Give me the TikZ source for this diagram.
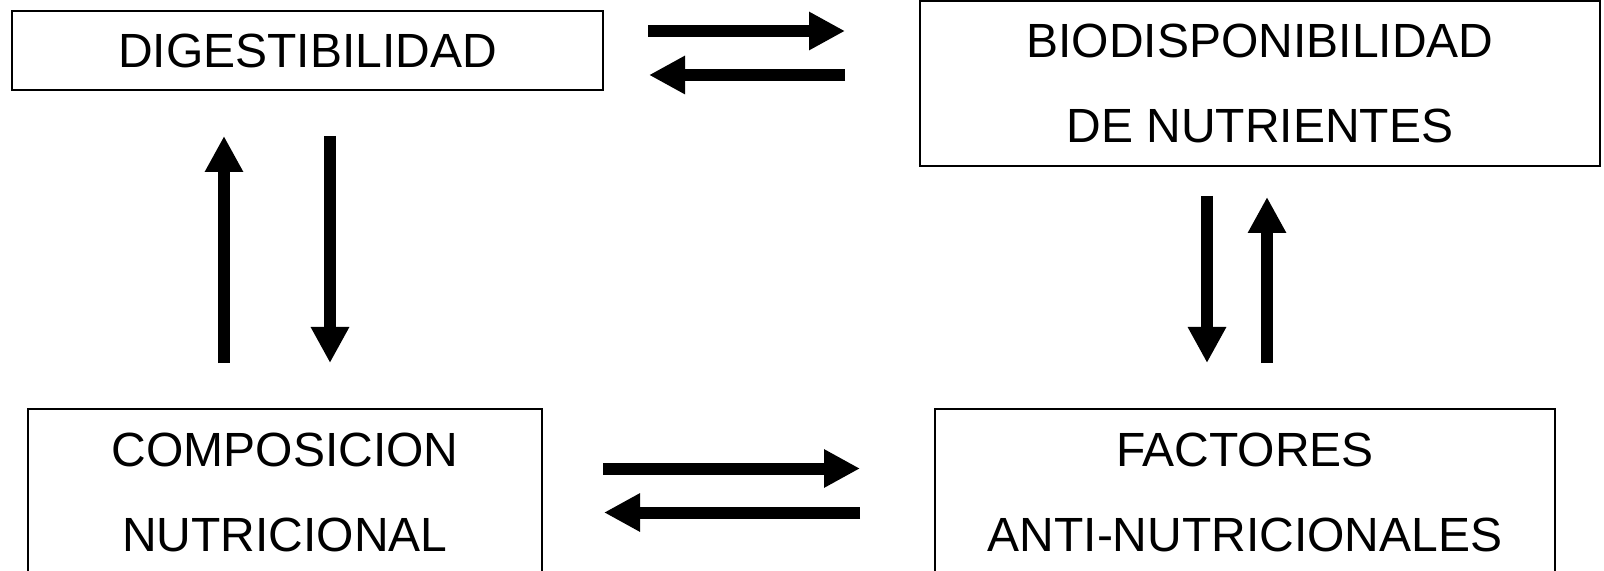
\documentclass[tikz,border=0pt]{standalone}
\usepackage{fontspec}
\setmainfont{Liberation Sans}
\usetikzlibrary{arrows.meta}
\begin{document}
\begin{tikzpicture}[x=0.5pt,y=-0.5pt,
  box/.style={draw=black,line width=0.9pt,inner sep=0pt,align=center,
    font=\fontsize{24}{42.5}\selectfont},
  bigarrow/.style={line width=6pt,-{Triangle[width=18pt,length=18pt]}}]
\useasboundingbox (0,0) rectangle (1604,571);
\node[box,minimum width=295.5pt,minimum height=39.5pt] (dig) at (307.5,50.5) {DIGESTIBILIDAD};
\node[box,minimum width=340pt,minimum height=82.5pt] (bio) at (1260,83.5) {BIODISPONIBILIDAD\\DE NUTRIENTES};
\node[box,minimum width=257pt,minimum height=83pt] (comp) at (285,492) {COMPOSICION\\NUTRICIONAL};
\node[box,minimum width=310pt,minimum height=83pt] (fact) at (1245,492) {FACTORES\\ANTI-NUTRICIONALES};
% arrow end points
\coordinate (a1) at (648,31);  \coordinate (a2) at (845,31);
\coordinate (b1) at (845,75);  \coordinate (b2) at (649,75);
\coordinate (c1) at (603,468.5); \coordinate (c2) at (860,468.5);
\coordinate (d1) at (860,512.5); \coordinate (d2) at (604,512.5);
\coordinate (e1) at (224,363); \coordinate (e2) at (224,136);
\coordinate (f1) at (330,136); \coordinate (f2) at (330,363);
\coordinate (g1) at (1207,196); \coordinate (g2) at (1207,363);
\coordinate (h1) at (1267,363); \coordinate (h2) at (1267,197);
\draw[bigarrow] (a1) -- (a2);
\draw[bigarrow] (b1) -- (b2);
\draw[bigarrow] (c1) -- (c2);
\draw[bigarrow] (d1) -- (d2);
\draw[bigarrow] (e1) -- (e2);
\draw[bigarrow] (f1) -- (f2);
\draw[bigarrow] (g1) -- (g2);
\draw[bigarrow] (h1) -- (h2);
\end{tikzpicture}
\end{document}
